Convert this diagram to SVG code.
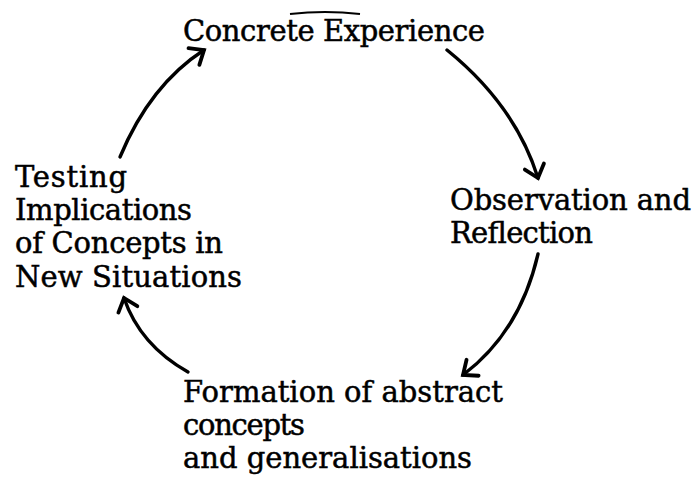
<svg xmlns="http://www.w3.org/2000/svg" width="695" height="477" viewBox="0 0 695 477">
<style>
text{font-family:"DejaVu Serif","Liberation Serif",serif;font-size:29px;fill:#000;stroke:#000;stroke-width:0.5}
.c{fill:none;stroke:#000;stroke-width:3.4;stroke-linecap:round}
</style>
<defs>
<marker id="ah" markerUnits="userSpaceOnUse" markerWidth="30" markerHeight="30" refX="15" refY="15" orient="auto" overflow="visible">
<path d="M3,5 L15,15 L3,25" fill="none" stroke="#000" stroke-width="3.8" stroke-linejoin="miter" stroke-linecap="round"/>
</marker>
</defs>
<rect width="695" height="477" fill="#fff"/>
<g id="n1"><text x="183" y="41" textLength="302">Concrete Experience</text><path d="M290,14 Q325,10 360,14" fill="none" stroke="#000" stroke-width="2"/></g>
<g id="n2"><text x="450" y="210" textLength="241">Observation and</text><text x="450" y="243" textLength="143">Reflection</text></g>
<g id="n3"><text x="183" y="402" textLength="320">Formation of abstract</text><text x="183" y="435" textLength="122">concepts</text><text x="183" y="468" textLength="289">and generalisations</text></g>
<g id="n4"><text x="15" y="187" textLength="112">Testing</text><text x="15" y="220" textLength="177">Implications</text><text x="15" y="253" textLength="208">of Concepts in</text><text x="15" y="287" textLength="227">New Situations</text></g>
<g id="connectors">
<path class="c" d="M447,50 Q515,105 538,178" marker-end="url(#ah)"/>
<path class="c" d="M538,254 Q520,332 463,375" marker-end="url(#ah)"/>
<path class="c" d="M188,372 Q140,345 124,298" marker-end="url(#ah)"/>
<path class="c" d="M120,157 Q150,85 204,50" marker-end="url(#ah)"/>
</g>
</svg>
